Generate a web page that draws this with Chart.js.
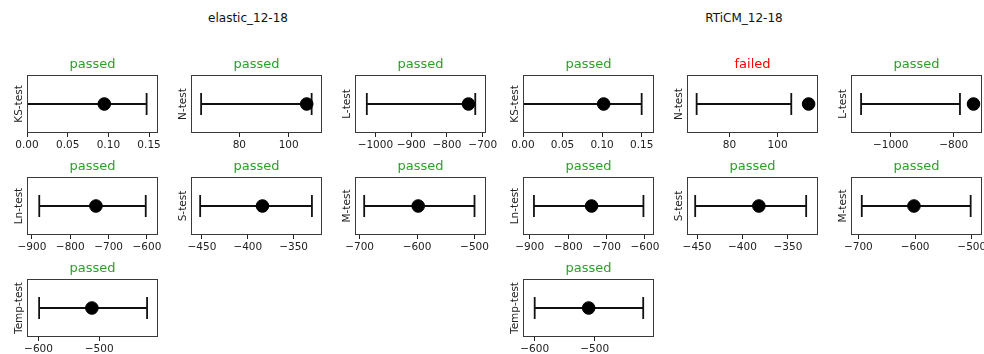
<!DOCTYPE html>
<html>
<head>
<meta charset="utf-8">
<script src="https://cdn.jsdelivr.net/npm/chart.js@4.4.1/dist/chart.umd.min.js"></script>
<style>
  body { margin: 0; background: #fff; }
  #fig { position: relative; width: 984px; height: 354px; overflow: hidden; background: #fff; font-family: 'DejaVu Sans', sans-serif; }
  .panel { position: absolute; }
  .suptitle { position: absolute; top: 11px; font-size: 12px; line-height: 14px; color: #111; transform: translateX(-50%); white-space: nowrap; }
</style>
</head>
<body>
<div id="fig"></div>
<script>
// two forecast models, seven consistency tests each
const models = ['elastic_12-18', 'RTiCM_12-18'];
const tests = ['KS-test', 'N-test', 'L-test', 'Ln-test', 'S-test', 'M-test', 'Temp-test'];

// simulated range (low/high) and observed statistic
const elasticLow  = [0, 64.5, -1024, -881, -452, -692, -599];
const elasticHigh = [0.147, 109.3, -721, -603, -330, -500, -421];
const elasticObs  = [0.095, 107.3, -740, -733, -384, -598, -512];
const elasticResult = ['passed', 'passed', 'passed', 'passed', 'passed', 'passed', 'passed'];

const rticmLow  = [0, 66.4, -1094, -889, -452, -694, -600];
const rticmHigh = [0.150, 105.7, -780, -604, -330, -502, -419];
const rticmObs  = [0.102, 112.9, -737, -739, -382, -602, -510];
const rticmResult = ['passed', 'failed', 'passed', 'passed', 'passed', 'passed', 'passed'];

// x axis limits of every panel
const elasticMin = [0, 60.4, -1057, -913, -462, -708, -619];
const elasticMax = [0.161, 113.5, -691, -571, -319, -480, -403];
const rticmMin = [0, 62.4, -1126, -917.5, -461, -713, -619.5];
const rticmMax = [0.1656, 116.8, -710, -576.5, -317, -482, -401];

// tick labels of every panel
const elasticTicks = [
  [0, 0.05, 0.10, 0.15], [80, 100], [-1000, -900, -800, -700],
  [-900, -800, -700, -600], [-450, -400, -350], [-700, -600, -500], [-600, -500]
];
const rticmTicks = [
  [0, 0.05, 0.10, 0.15], [80, 100], [-1000, -800],
  [-900, -800, -700, -600], [-450, -400, -350], [-700, -600, -500], [-600, -500]
];
const tickDecimals = [2, 0, 0, 0, 0, 0, 0];

const series = [
  { low: elasticLow, high: elasticHigh, obs: elasticObs, result: elasticResult, min: elasticMin, max: elasticMax, ticks: elasticTicks },
  { low: rticmLow, high: rticmHigh, obs: rticmObs, result: rticmResult, min: rticmMin, max: rticmMax, ticks: rticmTicks }
];

Chart.defaults.font.family = "'DejaVu Sans', sans-serif";
Chart.defaults.color = '#222';

const fig = document.getElementById('fig');
const groupLeft = [0, 496];
const colLeft = [27, 191, 355];
const rowTop = [75, 177, 279];
const boxW = 131, boxH = 58;
const padL = 27, padR = 20, padTop = 23, axisH = 20;
const resultColor = { passed: '#2ca02c', failed: '#ff0000' };

const frame = {
  id: 'frame',
  afterDatasetsDraw(chart) {
    const a = chart.chartArea;
    const ctx = chart.ctx;
    ctx.save();
    ctx.strokeStyle = '#3a3a3a';
    ctx.lineWidth = 1;
    ctx.strokeRect(Math.round(a.left) + 0.5, Math.round(a.top) + 0.5,
                   Math.round(a.right - a.left) - 1, Math.round(a.bottom - a.top) - 1);
    ctx.restore();
  }
};

function fmt(v, d) {
  return Number(v).toFixed(d).replace('-', '\u2212');
}

models.forEach((model, m) => {
  const s = series[m];
  const head = document.createElement('div');
  head.className = 'suptitle';
  head.style.left = (groupLeft[m] + 248) + 'px';
  head.textContent = model;
  fig.appendChild(head);

  tests.forEach((test, t) => {
    const row = Math.floor(t / 3), col = t % 3;
    const holder = document.createElement('div');
    holder.className = 'panel';
    holder.style.left = (groupLeft[m] + colLeft[col] - padL) + 'px';
    holder.style.top = (rowTop[row] - padTop) + 'px';
    const canvas = document.createElement('canvas');
    canvas.width = padL + boxW + padR;
    canvas.height = padTop + boxH + axisH;
    holder.appendChild(canvas);
    fig.appendChild(holder);

    new Chart(canvas, {
      type: 'scatter',
      data: {
        datasets: [
          {
            label: 'observed',
            data: [{ x: s.obs[t], y: 1 }],
            pointRadius: 6.3,
            pointBackgroundColor: '#000',
            pointBorderColor: '#000',
            order: 0
          },
          {
            type: 'line',
            label: 'range',
            data: [{ x: s.low[t], y: 1 }, { x: s.high[t], y: 1 }],
            borderColor: '#111',
            borderWidth: 2,
            pointStyle: 'line',
            pointRotation: 90,
            pointRadius: 11,
            pointBorderWidth: 1.8,
            pointBorderColor: '#111',
            order: 1
          }
        ]
      },
      options: {
        responsive: false,
        animation: false,
        events: [],
        layout: { autoPadding: false, padding: { left: 0, right: padR, top: 4.4, bottom: 0 } },
        plugins: {
          legend: { display: false },
          tooltip: { enabled: false },
          title: {
            display: true,
            fullSize: false,
            text: s.result[t],
            color: resultColor[s.result[t]],
            font: { size: 13, weight: 'normal' },
            padding: { top: 0, bottom: 3 }
          }
        },
        scales: {
          x: {
            type: 'linear',
            min: s.min[t],
            max: s.max[t],
            afterFit: sc => { sc.height = axisH; },
            afterBuildTicks: sc => { sc.ticks = s.ticks[t].map(v => ({ value: v })); },
            border: { display: false },
            grid: { drawOnChartArea: false, drawTicks: true, tickLength: 4, color: '#222' },
            ticks: {
              autoSkip: false,
              maxRotation: 0,
              padding: 2,
              font: { size: 10.5 },
              callback: v => fmt(v, tickDecimals[t])
            }
          },
          y: {
            min: 0,
            max: 2,
            afterFit: sc => { sc.width = padL; },
            border: { display: false },
            grid: { display: false },
            ticks: { display: false },
            title: {
              display: true,
              text: test,
              font: { size: 10.5 },
              color: '#222',
              padding: { top: 12.7, bottom: 0 }
            }
          }
        }
      },
      plugins: [frame]
    });
  });
});
</script>
</body>
</html>
